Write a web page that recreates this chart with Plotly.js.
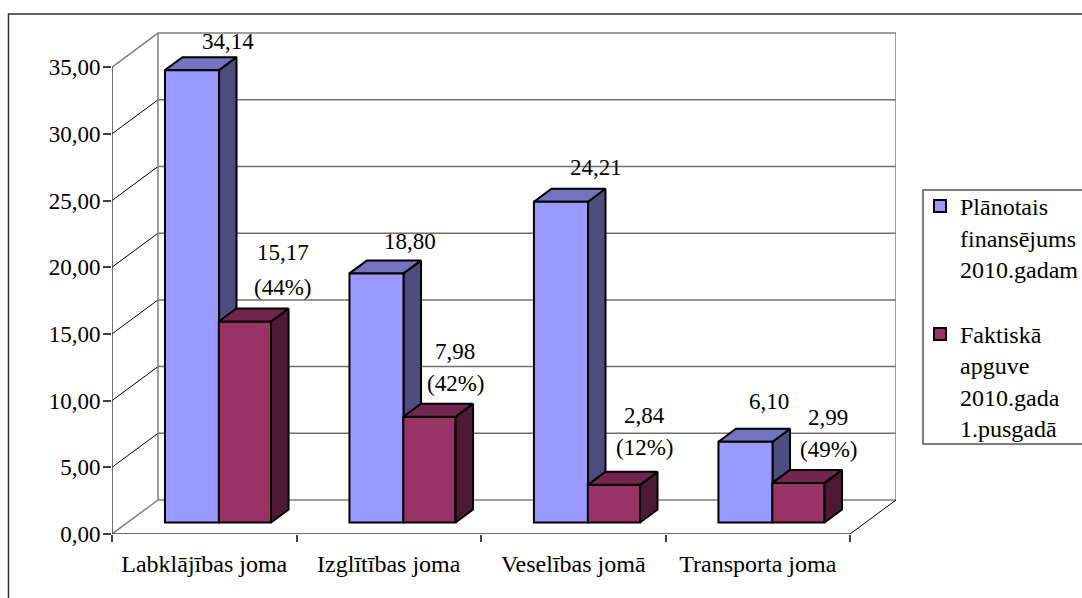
<!DOCTYPE html>
<html>
<head>
<meta charset="utf-8">
<script src="https://cdn.plot.ly/plotly-3.0.1.min.js"></script>
<style>html,body{margin:0;padding:0;background:#fff;overflow:hidden}</style>
</head>
<body>
<div id="chart" style="width:1082px;height:598px"></div>
<script>
// ---- data ----
const categories = ['Labklājības joma', 'Izglītības joma', 'Veselības jomā', 'Transporta joma'];
const planned = [34.14, 18.80, 24.21, 6.10];
const actual = [15.17, 7.98, 2.84, 2.99];
const plannedLabels = ['34,14', '18,80', '24,21', '6,10'];
const actualLabels = ['15,17', '7,98', '2,84', '2,99'];
const actualShares = ['(44%)', '(42%)', '(12%)', '(49%)'];
const yTickValues = [0, 5, 10, 15, 20, 25, 30, 35];
const yTickLabels = ['0,00', '5,00', '10,00', '15,00', '20,00', '25,00', '30,00', '35,00'];
const plannedName = 'Plānotais<br>finansējums<br>2010.gadam<br> ';
const actualName = 'Faktiskā<br>apguve<br>2010.gada<br>1.pusgadā';

// manual label nudges of the original chart (pixels)
const plannedShiftX = [36, 34, 35, 24];
const plannedShiftY = [29, 32, 34, 40];
const actualShiftX = [38, 26, 31, 30];
const valueShiftY = [69, 65, 69, 65];
const shareShiftY = [34, 33, 37, 33];

// ---- geometry ----
const W = 1082, H = 598;
const L = 112, R = 896, T = 20, B = 534;
const xUnit = 184.5, wallUnit = 13.34, barUnit = 13.25, barZeroPx = 522.5;
const xRange = [-0.5, -0.5 + (R - L) / xUnit];
const wallRange = [0, (B - T) / wallUnit];
const barRange = [(barZeroPx - B) / barUnit, (barZeroPx - T) / barUnit];
const wallDx = 46 / xUnit, wallDy = 34 / wallUnit;
const barDx = 17.5 / xUnit, barDy = 13 / barUnit;
const xEnd = categories.length - 0.5;
const blue = {offset: -0.213, width: 0.293};
const red = {offset: 0.079, width: 0.283};
const FONT = 'Liberation Serif';
const FS = 23, FS_X = 24, FS_LEG = 24;
const GRAY = '#808080', AXIS = '#404040';

function polys(values, pos, kind) {
  const xs = [], ys = [];
  values.forEach((v, i) => {
    const x1 = i + pos.offset, x2 = x1 + pos.width;
    if (kind === 'top') {
      xs.push(x1, x1 + barDx, x2 + barDx, x2, x1, null);
      ys.push(v, v + barDy, v + barDy, v, v, null);
    } else {
      xs.push(x2, x2 + barDx, x2 + barDx, x2, x2, null);
      ys.push(0, barDy, v + barDy, v, 0, null);
    }
  });
  return {x: xs, y: ys};
}
function facet(values, pos, kind, color, yaxis) {
  const p = polys(values, pos, kind);
  return {type: 'scatter', mode: 'lines', x: p.x, y: p.y, yaxis: yaxis, fill: 'toself', fillcolor: color,
    line: {color: '#000', width: 2}, showlegend: false, hoverinfo: 'skip', cliponaxis: false};
}
function path(x, y, color, width) {
  return {type: 'scatter', mode: 'lines', x: x, y: y, yaxis: 'y', line: {color: color, width: width},
    showlegend: false, hoverinfo: 'skip', cliponaxis: false};
}

// wall grid
const gridX = [], gridY = [], sideX = [], sideY = [];
yTickValues.forEach(v => {
  if (v > 0 && v < 35) {
    gridX.push(-0.5 + wallDx, xRange[1], null); gridY.push(v + wallDy, v + wallDy, null);
    sideX.push(-0.5, -0.5 + wallDx, null); sideY.push(v, v + wallDy, null);
  }
});

const data = [
  path(gridX, gridY, '#707070', 1.5),
  path(sideX, sideY, '#000', 1),
  path([-0.5, -0.5 + wallDx, xRange[1], xRange[1], -0.5 + wallDx, -0.5 + wallDx, -0.5],
       [35, 35 + wallDy, 35 + wallDy, wallDy, wallDy, 35 + wallDy, 35], GRAY, 1.5),
  path([-0.5, -0.5 + wallDx], [0, wallDy], GRAY, 1.5),
  path([xEnd, xRange[1]], [0, wallDy], '#000', 1),
  path([-0.5, -0.5], [0, 35], AXIS, 1.5),
  path([-0.5, xEnd], [0, 0], AXIS, 1.5),
  facet(planned, blue, 'side', '#4D4D80', 'y2'),
  facet(planned, blue, 'top', '#7373BF', 'y2'),
  {type: 'bar', x: categories.map((c, i) => i), y: planned, name: plannedName, yaxis: 'y3',
   width: blue.width, offset: blue.offset, marker: {color: '#9999FF', line: {color: '#000', width: 2}}, hoverinfo: 'y'},
  {type: 'bar', x: categories.map((c, i) => i), y: actual, name: actualName, yaxis: 'y3',
   width: red.width, offset: red.offset, marker: {color: '#993366', line: {color: '#000', width: 2}}, hoverinfo: 'y'},
  facet(actual, red, 'side', '#4D1A33', 'y3'),
  facet(actual, red, 'top', '#73264D', 'y3')
];

function note(x, y, text, dx, dy) {
  return {x: x, y: y, xref: 'x', yref: 'y3', text: text, showarrow: false, xanchor: 'center', yanchor: 'middle',
    xshift: dx, yshift: dy, font: {family: FONT, size: FS, color: '#000'}};
}
const annotations = [];
categories.forEach((c, i) => {
  annotations.push(note(i + blue.offset + blue.width / 2, planned[i], plannedLabels[i], plannedShiftX[i], plannedShiftY[i]));
  const xr = i + red.offset + red.width / 2;
  annotations.push(note(xr, actual[i], actualLabels[i], actualShiftX[i], valueShiftY[i]));
  annotations.push(note(xr, actual[i], actualShares[i], actualShiftX[i], shareShiftY[i]));
});

const pw = R - L, ph = B - T;
const layout = {
  width: W, height: H,
  margin: {l: L, r: W - R, t: T, b: H - B, autoexpand: false},
  paper_bgcolor: '#fff', plot_bgcolor: 'rgba(0,0,0,0)',
  barmode: 'overlay',
  font: {family: FONT, size: FS, color: '#000'},
  showlegend: true,
  legend: {x: (920 - L) / pw, y: (B - 184) / ph, xanchor: 'left', yanchor: 'top', bgcolor: 'rgba(0,0,0,0)',
    borderwidth: 0, valign: 'top', font: {family: FONT, size: FS_LEG, color: '#000'},
    traceorder: 'normal', itemclick: false, itemdoubleclick: false},
  xaxis: {range: xRange, showgrid: false, zeroline: false, showline: false, tickmode: 'array',
    tickvals: categories.map((c, i) => i), ticktext: categories, ticks: '', ticklabelstandoff: 13,
    tickfont: {family: FONT, size: FS_X, color: '#000'},
    minor: {tickmode: 'array', tickvals: [-0.5, 0.5, 1.5, 2.5, 3.5], ticks: 'outside', ticklen: 7, tickwidth: 1.5, tickcolor: AXIS, showgrid: false}},
  yaxis: {range: wallRange, showgrid: false, zeroline: false, showline: false, tickmode: 'array',
    tickvals: yTickValues, ticktext: yTickLabels, ticks: 'outside', ticklen: 8, tickwidth: 1.5, tickcolor: AXIS,
    ticklabelstandoff: -2, tickfont: {family: FONT, size: FS, color: '#000'}},
  yaxis2: {range: barRange, overlaying: 'y', visible: false, fixedrange: true},
  yaxis3: {range: barRange, overlaying: 'y', visible: false, fixedrange: true},
  annotations: annotations,
  shapes: [
    {type: 'rect', xref: 'paper', yref: 'paper',
     x0: (8.5 - L) / pw, x1: (W + 20 - L) / pw, y0: (B - H - 20) / ph, y1: (B - 14) / ph,
     line: {color: '#333', width: 1.5}, fillcolor: 'rgba(0,0,0,0)', layer: 'below'},
    {type: 'rect', xref: 'paper', yref: 'paper',
     x0: (923 - L) / pw, x1: (W + 20 - L) / pw, y0: (B - 444) / ph, y1: (B - 190) / ph,
     line: {color: '#555', width: 1.5}, fillcolor: '#fff', layer: 'above'}
  ]
};
Plotly.newPlot('chart', data, layout, {displayModeBar: false, staticPlot: false});
</script>
</body>
</html>
